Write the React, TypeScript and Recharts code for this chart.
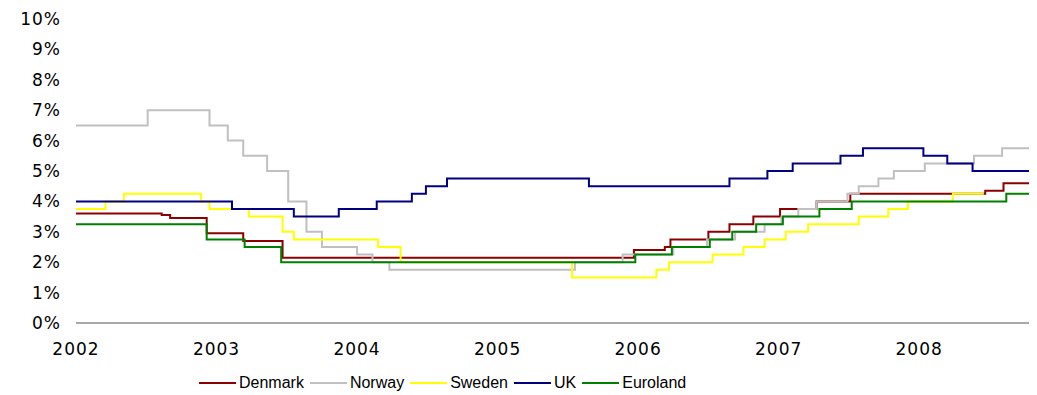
import { Legend, Line, LineChart, XAxis, YAxis } from 'recharts';

// Policy rates, step changes as [decimal year, rate %]; last pair closes the series
const denmark: [number, number][] = [
  [2002.0, 3.6], [2002.61, 3.55], [2002.67, 3.45], [2002.93, 2.95], [2003.19, 2.7],
  [2003.47, 2.15], [2005.97, 2.4], [2006.19, 2.5], [2006.23, 2.75], [2006.5, 3.0],
  [2006.65, 3.25], [2006.82, 3.5], [2007.01, 3.75], [2007.27, 4.0], [2007.51, 4.25],
  [2008.47, 4.35], [2008.6, 4.6], [2008.81, 4.6],
];

const norway: [number, number][] = [
  [2002.0, 6.5], [2002.51, 7.0], [2002.95, 6.5], [2003.08, 6.0], [2003.19, 5.5],
  [2003.36, 5.0], [2003.51, 4.0], [2003.64, 3.0], [2003.75, 2.5], [2004.0, 2.25],
  [2004.11, 2.0], [2004.23, 1.75], [2005.55, 2.0], [2005.89, 2.25], [2006.25, 2.5],
  [2006.49, 2.75], [2006.69, 3.0], [2006.9, 3.25], [2007.02, 3.5], [2007.14, 3.75],
  [2007.27, 4.0], [2007.49, 4.25], [2007.57, 4.5], [2007.71, 4.75], [2007.82, 5.0],
  [2008.04, 5.25], [2008.39, 5.5], [2008.59, 5.75], [2008.81, 5.75],
];

const sweden: [number, number][] = [
  [2002.0, 3.75], [2002.21, 4.0], [2002.34, 4.25], [2002.89, 4.0], [2002.95, 3.75],
  [2003.23, 3.5], [2003.47, 3.0], [2003.55, 2.75], [2004.15, 2.5], [2004.31, 2.0],
  [2005.53, 1.5], [2006.13, 1.75], [2006.22, 2.0], [2006.53, 2.25], [2006.75, 2.5],
  [2006.9, 2.75], [2007.05, 3.0], [2007.21, 3.25], [2007.57, 3.5], [2007.78, 3.75],
  [2007.92, 4.0], [2008.24, 4.25], [2008.46, 4.25],
];

const uk: [number, number][] = [
  [2002.0, 4.0], [2003.11, 3.75], [2003.55, 3.5], [2003.87, 3.75], [2004.14, 4.0],
  [2004.39, 4.25], [2004.49, 4.5], [2004.64, 4.75], [2005.65, 4.5], [2006.65, 4.75],
  [2006.92, 5.0], [2007.1, 5.25], [2007.44, 5.5], [2007.6, 5.75], [2008.03, 5.5],
  [2008.2, 5.25], [2008.38, 5.0], [2008.81, 5.0],
];

const euroland: [number, number][] = [
  [2002.0, 3.25], [2002.93, 2.75], [2003.2, 2.5], [2003.46, 2.0], [2005.98, 2.25],
  [2006.24, 2.5], [2006.51, 2.75], [2006.67, 3.0], [2006.84, 3.25], [2007.03, 3.5],
  [2007.29, 3.75], [2007.52, 4.0], [2008.62, 4.25], [2008.81, 4.25],
];

const yearTicks = [2002, 2003, 2004, 2005, 2006, 2007, 2008];
const rateTicks = [0, 1, 2, 3, 4, 5, 6, 7, 8, 9, 10];

const series = [
  { key: 'denmark', label: 'Denmark', color: '#8b0000', steps: denmark },
  { key: 'norway', label: 'Norway', color: '#c0c0c0', steps: norway },
  { key: 'sweden', label: 'Sweden', color: '#ffff00', steps: sweden },
  { key: 'uk', label: 'UK', color: '#000080', steps: uk },
  { key: 'euroland', label: 'Euroland', color: '#008000', steps: euroland },
];

const toPoints = (steps: [number, number][]) => steps.map(([t, v]) => ({ t, v }));

const tickStyle = { fontFamily: 'DejaVu Sans', fontSize: 17, fill: '#000', letterSpacing: 1 };

function RateLegend() {
  return (
    <div
      style={{
        display: 'flex',
        alignItems: 'center',
        height: 36,
        fontFamily: 'Liberation Sans',
        fontSize: 16,
        color: '#000',
        whiteSpace: 'nowrap',
      }}
    >
      {series.map((s) => (
        <div key={s.key} style={{ display: 'flex', alignItems: 'center', marginRight: 6 }}>
          <span style={{ display: 'inline-block', width: 37, height: 2, background: s.color, marginRight: 3 }} />
          <span>{s.label}</span>
        </div>
      ))}
    </div>
  );
}

export default function App() {
  return (
    <div style={{ width: 1029, height: 387, position: 'relative' }}>
      <LineChart width={1029} height={387} margin={{ top: 11, right: 4, left: 0, bottom: 0 }}>
        <XAxis
          dataKey="t"
          type="number"
          domain={[2002, 2008.81]}
          ticks={yearTicks}
          tickFormatter={(v) => String(v)}
          tickLine={false}
          tickSize={0}
          tickMargin={20}
          height={42}
          stroke="#555"
          tick={tickStyle}
          allowDataOverflow
        />
        <YAxis
          type="number"
          domain={[0, 10]}
          ticks={rateTicks}
          tickFormatter={(v) => `${v}%`}
          axisLine={false}
          tickLine={false}
          tickSize={0}
          tickMargin={15}
          width={68}
          tick={tickStyle}
        />
        <Legend
          verticalAlign="bottom"
          height={30}
          content={() => <RateLegend />}
          wrapperStyle={{ left: 191, width: 'auto' }}
        />
        {series.map((s) => (
          <Line
            key={s.key}
            data={toPoints(s.steps)}
            dataKey="v"
            name={s.label}
            type="stepAfter"
            stroke={s.color}
            strokeWidth={2}
            dot={false}
            activeDot={false}
            isAnimationActive={false}
          />
        ))}
      </LineChart>
    </div>
  );
}
